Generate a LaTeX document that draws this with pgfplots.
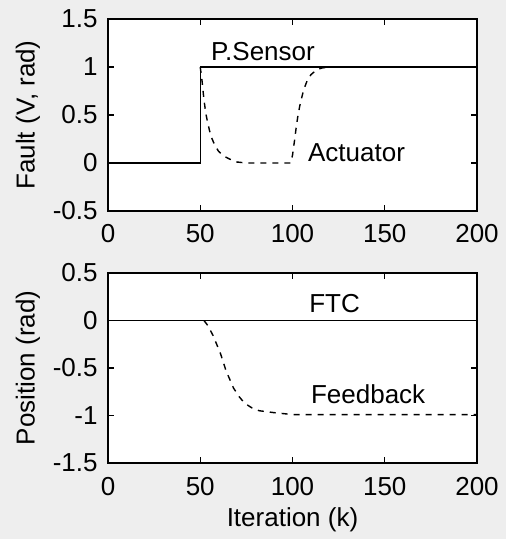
\documentclass[border=0pt]{standalone}
\usepackage{fontspec}
\setmainfont{Liberation Sans}
\usepackage{pgfplots}
\pgfplotsset{compat=1.18}

\newcommand{\fs}{\fontsize{13}{15}\selectfont}

\pgfplotsset{
  faultfig/.style={
    scale only axis,
    width=184.5pt,
    xmin=0, xmax=200,
    xtick={0,50,100,150,200},
    xticklabels={0,50,100,150,200},
    tick align=inside,
    major tick length=3pt,
    every tick/.style={black, line width=0.6pt},
    axis line style={line width=0.8pt},
    axis background/.style={fill=white},
    tick label style={font=\fs},
    label style={font=\fs},
    xticklabel style={anchor=base, yshift=-16pt},
    yticklabel style={anchor=east, inner sep=0pt, xshift=-5pt},
    every axis y label/.style={at={(axis description cs:-0.2168,0.5)}, rotate=90, anchor=center},
  },
  sens/.style={black, line width=0.7pt},
  dsh/.style={black, line width=0.7pt, dash pattern=on 3pt off 3pt},
}

\begin{document}
\begin{tikzpicture}[font=\fs]
\useasboundingbox (-54pt,-164pt) rectangle (199pt,105.5pt);
\fill[gray!13] (-54pt,-164pt) rectangle (199pt,105.5pt);

% top: faults
\begin{axis}[faultfig,
  at={(0pt,0pt)}, anchor=south west,
  height=96pt,
  ymin=-0.5, ymax=1.5,
  ytick={-0.5,0,0.5,1,1.5},
  yticklabels={-0.5,0,0.5,1,1.5},
  ylabel={Fault (V, rad)},
]
\addplot[sens] coordinates {(0,0) (50,0) (50,1) (200,1)};
\addplot[dsh] coordinates {
  (50,1) (51,0.85) (52,0.66) (53,0.52) (54,0.42) (55,0.34) (56,0.27)
  (58,0.18) (60,0.12) (63,0.07) (66,0.04) (70,0.01) (75,0) (99,0)
  (100,0.08) (101,0.22) (102,0.37) (103,0.5) (104,0.6) (105,0.68)
  (106,0.76) (108,0.86) (110,0.92) (113,0.97) (116,0.99) (120,1) (200,1)};
\node at (axis cs:84,1.16) {P.Sensor};
\node at (axis cs:134.7,0.11) {Actuator};
\end{axis}

% bottom: position
\begin{axis}[faultfig,
  at={(0pt,-126pt)}, anchor=south west,
  height=95pt,
  ymin=-1.5, ymax=0.5,
  ytick={-1.5,-1,-0.5,0,0.5},
  yticklabels={-1.5,-1,-0.5,0,0.5},
  ylabel={Position (rad)},
  xlabel={Iteration (k)},
  every axis x label/.style={at={(axis description cs:0.5,-0.3316)}, anchor=base},
]
\addplot[sens] coordinates {(0,0) (200,0)};
\addplot[dsh] coordinates {
  (52,0) (54,-0.05) (57,-0.16) (61,-0.35) (64,-0.53) (68,-0.71)
  (71,-0.8) (74,-0.87) (78,-0.92) (82,-0.95) (90,-0.97) (100,-0.99) (200,-0.99)};
\node at (axis cs:122.8,0.18) {FTC};
\node at (axis cs:141,-0.78) {Feedback};
\end{axis}
\end{tikzpicture}
\end{document}
